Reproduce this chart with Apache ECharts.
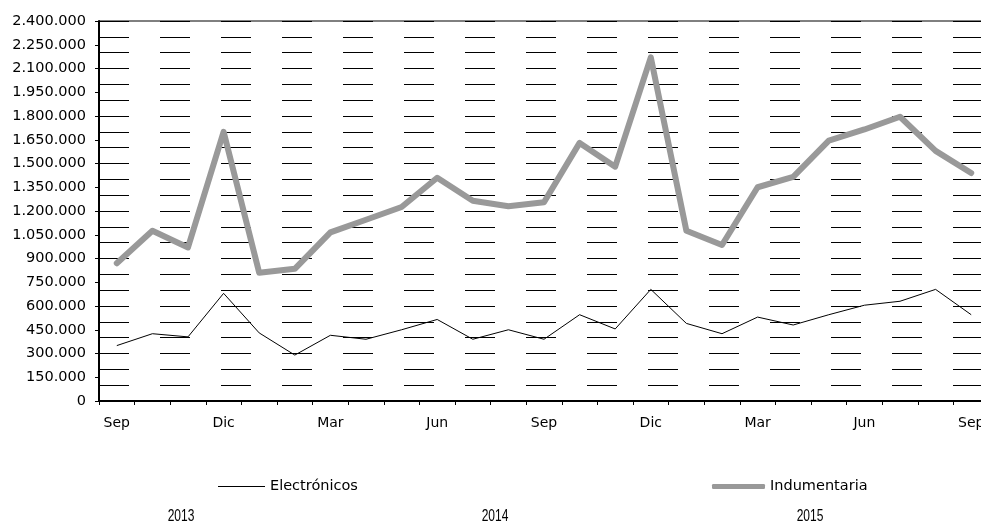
<!DOCTYPE html>
<html>
<head>
<meta charset="utf-8">
<script src="https://cdn.jsdelivr.net/npm/echarts@6/dist/echarts.min.js"></script>
<style>
html,body{margin:0;padding:0;background:#fff;}
#chart{width:981px;height:524px;}
</style>
</head>
<body>
<div id="chart"></div>
<script>
var months = ['Sep','Oct','Nov','Dic','Ene','Feb','Mar','Abr','May','Jun','Jul','Ago',
              'Sep','Oct','Nov','Dic','Ene','Feb','Mar','Abr','May','Jun','Jul','Ago','Sep'];
var years = ['2013','2014','2015'];
var electronicos = [350000,425000,405000,680000,430000,290000,415000,390000,450000,515000,390000,450000,
                    390000,545000,455000,705000,490000,425000,530000,480000,545000,605000,630000,705000,545000];
var indumentaria = [870000,1075000,970000,1700000,810000,835000,1065000,1145000,1225000,1410000,1265000,1230000,
                    1255000,1630000,1480000,2170000,1075000,985000,1350000,1415000,1645000,1715000,1795000,1580000,1440000];

var FONT = 'DejaVu Sans, sans-serif';
var FONT2 = 'Liberation Sans, Arial, sans-serif';
function fmt(v){ return String(v).replace(/\B(?=(\d{3})+(?!\d))/g, '.'); }

var chart = echarts.init(document.getElementById('chart'));
chart.setOption({
  animation: false,
  backgroundColor: '#fff',
  grid: { left: 99, width: 890, top: 21, bottom: 123, outerBoundsMode: 'none', containLabel: false,
          show: true, borderColor: '#000', borderWidth: 1, backgroundColor: 'transparent' },
  legend: [
    { data: [{ name: 'Electrónicos' }], left: 213, top: 474, icon: 'rect', itemWidth: 47, itemHeight: 1,
      textStyle: { fontFamily: FONT, fontSize: 14.5, color: '#000' } },
    { data: [{ name: 'Indumentaria' }], left: 707, top: 474, icon: 'roundRect', itemWidth: 53, itemHeight: 5,
      textStyle: { fontFamily: FONT, fontSize: 14.5, color: '#000' } }
  ],
  xAxis: {
    type: 'category', data: months, boundaryGap: true,
    axisLine: { lineStyle: { color: '#000', width: 2 } },
    axisTick: { show: true, interval: 0, length: 4, lineStyle: { color: '#000', width: 1 } },
    axisLabel: { interval: 2, color: '#000', fontFamily: FONT, fontSize: 14, margin: 15 },
    splitLine: { show: false }
  },
  yAxis: [
    { type: 'value', min: 0, max: 2400000, interval: 150000, position: 'left',
      axisLine: { show: true, lineStyle: { color: '#000', width: 2 } },
      axisTick: { show: true, length: 4, lineStyle: { color: '#000', width: 1 } },
      axisLabel: { color: '#000', fontFamily: FONT, fontSize: 14.5, margin: 13, formatter: fmt },
      splitLine: { show: false } },
    { type: 'value', min: 0, max: 2400000, interval: 100000, position: 'left', alignTicks: false,
      axisLine: { show: false }, axisTick: { show: false }, axisLabel: { show: false },
      splitLine: { show: true, lineStyle: { color: '#000', width: 1, type: [30, 31] } } }
  ],
  graphic: years.map(function(y, i){
    var xs = [181, 495, 810];
    return { type: 'text', x: xs[i], y: 517, scaleX: 0.75,
      style: { text: y, fill: '#000', fontFamily: FONT2, fontSize: 16, align: 'center', verticalAlign: 'middle' } };
  }),
  series: [
    { name: 'Electrónicos', type: 'line', data: electronicos, yAxisIndex: 0,
      symbol: 'none', lineStyle: { color: '#000', width: 1 }, itemStyle: { color: '#000' }, z: 3 },
    { name: 'Indumentaria', type: 'line', data: indumentaria, yAxisIndex: 0,
      symbol: 'none', lineStyle: { color: '#999', width: 6, join: 'round', cap: 'round' }, itemStyle: { color: '#999' }, z: 2 }
  ]
});
</script>
</body>
</html>
